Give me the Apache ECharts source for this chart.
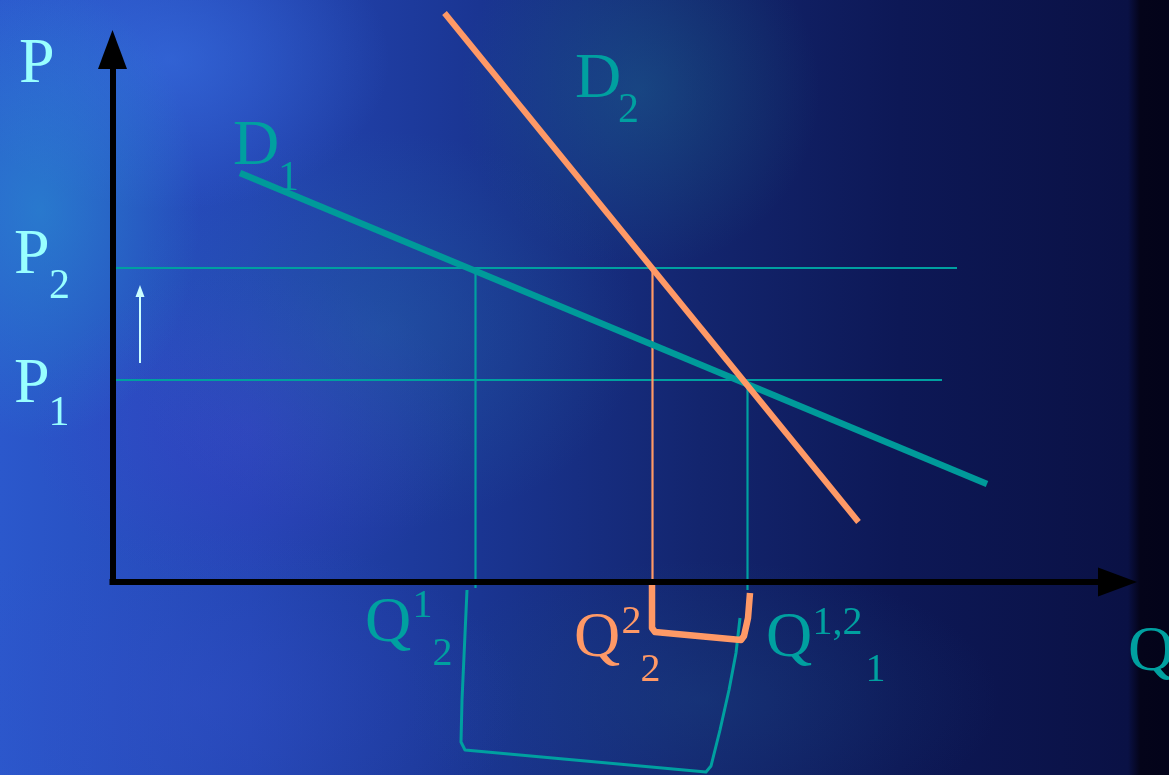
<!DOCTYPE html>
<html>
<head>
<meta charset="utf-8">
<script src="https://cdn.jsdelivr.net/npm/echarts@6/dist/echarts.min.js"></script>
<style>
  html, body { margin: 0; padding: 0; overflow: hidden; background: #0a1145; }
  #chart {
    width: 1169px;
    height: 775px;
    background:
      radial-gradient(ellipse 160px 230px at 40px 210px, rgba(40,150,210,0.55), rgba(40,150,210,0)),
      radial-gradient(ellipse 220px 150px at 170px 60px, rgba(60,120,235,0.5), rgba(60,120,235,0)),
      radial-gradient(ellipse 180px 180px at 640px 90px, rgba(30,120,150,0.35), rgba(30,120,150,0)),
      radial-gradient(ellipse 260px 200px at 380px 330px, rgba(40,120,170,0.3), rgba(40,120,170,0)),
      radial-gradient(ellipse 220px 160px at 250px 430px, rgba(70,60,210,0.35), rgba(70,60,210,0)),
      radial-gradient(ellipse 320px 170px at 200px 700px, rgba(50,80,200,0.4), rgba(50,80,200,0)),
      radial-gradient(ellipse 300px 140px at 700px 700px, rgba(30,80,140,0.3), rgba(30,80,140,0)),
      linear-gradient(to right, #2b58cc 0px, #2446b4 250px, #1a3592 480px, #13256e 700px, #0d1856 900px, #0a1145 1128px, #04041a 1140px, #03031a 1169px);
  }
</style>
</head>
<body>
<div id="chart"></div>
<script>
// price levels (P axis)
const priceNames = ['P1', 'P2'];
const priceLevels = [20.2, 31.4];
const priceLineEnds = [82.95, 84.45];

// quantities (Q axis): Q1_2, Q2_2, Q1,2_1
const quantityNames = ['Q1_2', 'Q2_2', 'Q12_1'];
const quantityLevels = [36.3, 54.0, 63.5];
const quantityTops = [31.4, 31.4, 20.2];
const quantityDrops = [-0.6, -0.1, -0.8];
const quantityColors = ['#00a0a0', '#ff9966', '#00a0a0'];

// demand curves
const demand1 = [[12.75, 40.9], [87.45, 9.8]];
const demand2 = [[33.2, 56.9], [74.6, 6.0]];

// hand-drawn brackets under the Q axis
const shiftBracket = [[53.95, -0.2], [53.95, -4.6], [54.25, -5.0], [62.85, -5.8], [63.15, -5.4], [63.55, -3.6], [63.75, -1.1]];
const totalBracket = [[35.45, -0.8], [34.95, -11.8], [34.85, -16.0], [35.25, -16.8], [59.35, -19.0], [59.85, -18.4], [60.75, -14.8], [61.65, -10.8], [62.35, -7.1], [62.75, -3.6]];

// little "price goes up" arrow
const priceArrow = [[2.75, 21.9], [2.75, 29.1]];

const TEAL = '#00a0a0';
const ORANGE = '#ff9966';
const CYAN = '#99ffff';
const SERIF = '"Liberation Serif", "Times New Roman", serif';

const chart = echarts.init(document.getElementById('chart'));

const plain = (name, data, color, width, z) => ({
    name,
    type: 'line',
    data,
    symbol: 'none',
    clip: false,
    silent: true,
    z,
    lineStyle: { color, width, cap: 'butt', join: 'round' },
});

const series = [];

// horizontal price lines
priceLevels.forEach((p, i) => {
    series.push(plain(priceNames[i], [[-0.5, p], [priceLineEnds[i], p]], TEAL, 2.2, 2));
});

// vertical quantity lines
quantityLevels.forEach((q, i) => {
    series.push(plain(quantityNames[i], [[q, quantityTops[i]], [q, quantityDrops[i]]], quantityColors[i], 2.2, 2));
});

series.push(plain('D1', demand1, '#009a9a', 6.5, 4));
series.push(plain('D2', demand2, ORANGE, 6, 5));
series.push(plain('bracket total', totalBracket, TEAL, 3, 3));
series.push(plain('bracket shift', shiftBracket, ORANGE, 6.5, 3));

series.push({
    name: 'arrow',
    type: 'line',
    clip: false,
    silent: true,
    z: 3,
    showSymbol: true,
    lineStyle: { color: '#ccffff', width: 2 },
    itemStyle: { color: '#ccffff' },
    data: [
        { value: priceArrow[0], symbol: 'none' },
        { value: priceArrow[1], symbol: 'triangle', symbolSize: [9, 12] },
    ],
});

// text labels with sub/superscripts
const texts = [
    ['P', 19, 65, 64, CYAN],
    ['P', 14, 256, 64, CYAN], ['2', 49, 286.5, 42, CYAN],
    ['P', 14, 385, 64, CYAN], ['1', 48.5, 413.5, 42, CYAN],
    ['D', 233, 147.5, 64, TEAL], ['1', 278, 178.5, 42, TEAL],
    ['D', 575, 80, 64, TEAL], ['2', 618, 111, 42, TEAL],
    ['Q', 365, 624, 64, TEAL], ['1', 412.5, 606.5, 40, TEAL], ['2', 432.5, 654.5, 40, TEAL],
    ['Q', 574, 639, 64, ORANGE], ['2', 621.5, 622.5, 40, ORANGE], ['2', 640.5, 670.5, 40, ORANGE],
    ['Q', 766, 639, 64, TEAL], ['1,2', 812.5, 623, 40, TEAL], ['1', 865.5, 670.5, 40, TEAL],
    ['Q', 1128, 653, 64, TEAL],
];

const axisCommon = {
    type: 'value',
    z: 10,
    axisTick: { show: false },
    axisLabel: { show: false },
    splitLine: { show: false },
};

chart.setOption({
    backgroundColor: 'transparent',
    animation: false,
    grid: { left: 112.5, right: 51.5, top: 49.5, bottom: 193 },
    xAxis: {
        ...axisCommon,
        min: 0,
        max: 100.5,
        axisLine: {
            show: true,
            onZero: false,
            symbol: ['none', 'triangle'],
            symbolSize: [29, 39],
            lineStyle: { color: '#000', width: 6, cap: 'square' },
        },
    },
    yAxis: {
        ...axisCommon,
        min: 0,
        max: 53.25,
        axisLine: {
            show: true,
            onZero: false,
            symbol: ['none', 'triangle'],
            symbolSize: [29, 39],
            lineStyle: { color: '#000', width: 6, cap: 'square' },
        },
    },
    series,
    graphic: texts.map(([text, x, y, size, color]) => ({
        type: 'text',
        x,
        y,
        silent: true,
        z: 20,
        style: {
            text,
            fill: color,
            font: size + 'px ' + SERIF,
            align: 'left',
            verticalAlign: 'middle',
        },
    })),
});
</script>
</body>
</html>
